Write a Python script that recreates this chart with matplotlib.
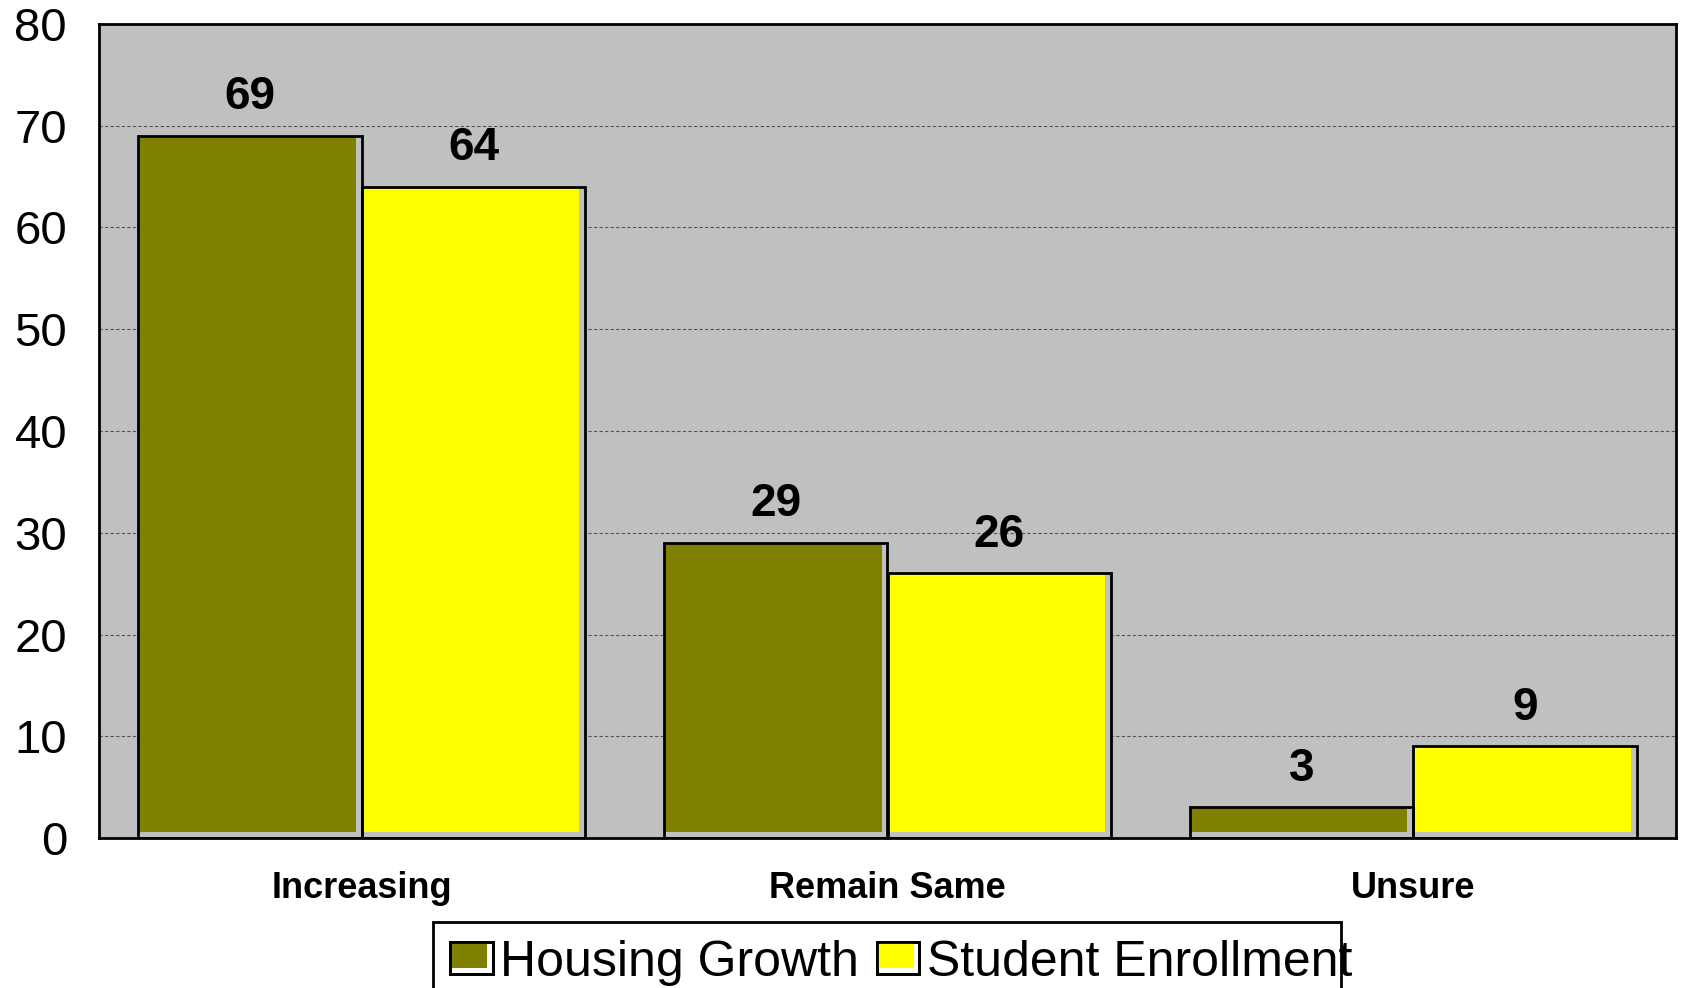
import matplotlib
matplotlib.use("Agg")
import matplotlib.pyplot as plt
import numpy as np
from matplotlib.patches import Rectangle
from matplotlib.legend_handler import HandlerBase

categories = ["Increasing", "Remain Same", "Unsure"]
housing_growth = [69, 29, 3]
student_enrollment = [64, 26, 9]
series_names = ["Housing Growth", "Student Enrollment"]
yticks = [0, 10, 20, 30, 40, 50, 60, 70, 80]

colors = ["#808000", "#FFFF00"]
bg = "#C0C0C0"

plt.rcParams['font.family'] = ['Liberation Sans', 'DejaVu Sans']

fig = plt.figure(figsize=(16.82, 9.88), dpi=100)
ax = fig.add_axes([99/1682, 150/988, 1577/1682, 814/988])
ax.set_facecolor(bg)

x = np.arange(len(categories))
w = 0.425
dx = 6/525.7
dy = 6*80/814

handles = []
for i, (vals, c) in enumerate(zip([housing_growth, student_enrollment], colors)):
    left = x - w + i*w
    ax.bar(left, vals, width=w, align='edge', color=bg, edgecolor='none', zorder=2)
    ax.bar(left, np.array(vals) - dy, bottom=dy, width=w - dx, align='edge',
           color=c, edgecolor='none', zorder=3)
    ax.bar(left, vals, width=w, align='edge', facecolor='none', edgecolor='black',
           linewidth=2, zorder=4)
    handles.append(Rectangle((0, 0), 1, 1, facecolor=c))
    for xi, v in zip(left + w/2, vals):
        ax.annotate(str(v), (xi, v), xytext=(0, 12), textcoords='offset points',
                    ha='center', va='bottom', fontsize=33, fontweight='bold')

ax.set_xlim(-0.5, 2.5)
ax.set_ylim(0, 80)
ax.set_yticks(yticks)
ax.set_yticklabels([str(t) for t in yticks], fontsize=34)
ax.set_xticks(x)
ax.set_xticklabels(categories, fontsize=26, fontweight='bold')
ax.tick_params(axis='y', length=0, pad=23)
ax.tick_params(axis='x', length=0, pad=24)
ax.yaxis.grid(True, linestyle=(0, (3, 2)), color='#555555', linewidth=0.8, zorder=1)
ax.set_axisbelow(True)
for s in ax.spines.values():
    s.set_linewidth(2)
    s.set_color('black')


class ShadowHandler(HandlerBase):
    def create_artists(self, legend, orig_handle, xdescent, ydescent, width, height, fontsize, trans):
        fc = orig_handle.get_facecolor()
        r0 = Rectangle((-xdescent, -ydescent), width, height, facecolor='white',
                       edgecolor='black', linewidth=2, transform=trans)
        r1 = Rectangle((-xdescent + 1, -ydescent + 4), width - 5, height - 5, facecolor=fc,
                       edgecolor='none', transform=trans)
        r2 = Rectangle((-xdescent, -ydescent), width, height, facecolor='none',
                       edgecolor='black', linewidth=2, transform=trans)
        return [r0, r1, r2]


# legend frame (narrower than its text, as in the original)
fig.patches.append(Rectangle((433/1682, -0.05), (1341 - 433)/1682, 0.05 + (988 - 922)/988,
                             transform=fig.transFigure, facecolor='none',
                             edgecolor='black', linewidth=2))

leg = fig.legend(handles, series_names, loc='upper left', bbox_to_anchor=(433/1682, 1 - 922/988),
                 ncol=2, frameon=False,
                 handler_map={Rectangle: ShadowHandler()},
                 handlelength=0.85, handleheight=0.6, handletextpad=0.15, columnspacing=0.35,
                 borderpad=0.35, borderaxespad=0,
                 prop={'family': ['Liberation Sans'], 'size': 36})

fig.savefig("out.png", dpi=100)
